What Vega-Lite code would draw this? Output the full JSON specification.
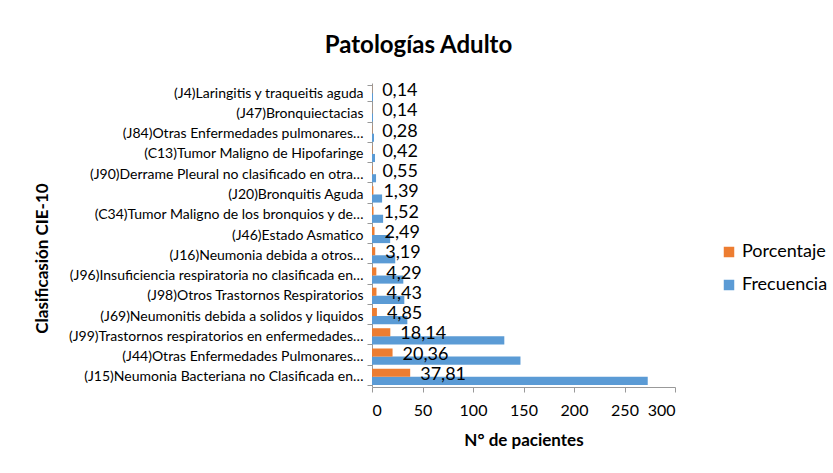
{
  "$schema": "https://vega.github.io/schema/vega-lite/v6.json",
  "width": 303,
  "height": 304,
  "autosize": "none",
  "padding": {"left": 372, "top": 83, "right": 158, "bottom": 86},
  "background": "white",
  "config": {
    "font": "Lato",
    "view": {"stroke": null},
    "locale": {"number": {"decimal": ",", "thousands": ".", "grouping": [3], "currency": ["", "€"]}}
  },
  "title": {"text": "Patologías Adulto", "fontSize": 24, "fontWeight": "bold", "anchor": "middle", "dx": -105, "offset": 18, "color": "black", "font": "Lato"},
  "data": {"values": [
    {"cat": "(J4)Laringitis y traqueitis aguda", "serie": "Frecuencia", "valor": 1, "pct": 0.14},
    {"cat": "(J4)Laringitis y traqueitis aguda", "serie": "Porcentaje", "valor": 0.14, "pct": 0.14},
    {"cat": "(J47)Bronquiectacias", "serie": "Frecuencia", "valor": 1, "pct": 0.14},
    {"cat": "(J47)Bronquiectacias", "serie": "Porcentaje", "valor": 0.14, "pct": 0.14},
    {"cat": "(J84)Otras Enfermedades pulmonares…", "serie": "Frecuencia", "valor": 2, "pct": 0.28},
    {"cat": "(J84)Otras Enfermedades pulmonares…", "serie": "Porcentaje", "valor": 0.28, "pct": 0.28},
    {"cat": "(C13)Tumor Maligno de Hipofaringe", "serie": "Frecuencia", "valor": 3, "pct": 0.42},
    {"cat": "(C13)Tumor Maligno de Hipofaringe", "serie": "Porcentaje", "valor": 0.42, "pct": 0.42},
    {"cat": "(J90)Derrame Pleural no clasificado en otra…", "serie": "Frecuencia", "valor": 4, "pct": 0.55},
    {"cat": "(J90)Derrame Pleural no clasificado en otra…", "serie": "Porcentaje", "valor": 0.55, "pct": 0.55},
    {"cat": "(J20)Bronquitis Aguda", "serie": "Frecuencia", "valor": 10, "pct": 1.39},
    {"cat": "(J20)Bronquitis Aguda", "serie": "Porcentaje", "valor": 1.39, "pct": 1.39},
    {"cat": "(C34)Tumor Maligno de los bronquios y de…", "serie": "Frecuencia", "valor": 11, "pct": 1.52},
    {"cat": "(C34)Tumor Maligno de los bronquios y de…", "serie": "Porcentaje", "valor": 1.52, "pct": 1.52},
    {"cat": "(J46)Estado Asmatico", "serie": "Frecuencia", "valor": 18, "pct": 2.49},
    {"cat": "(J46)Estado Asmatico", "serie": "Porcentaje", "valor": 2.49, "pct": 2.49},
    {"cat": "(J16)Neumonia debida a otros…", "serie": "Frecuencia", "valor": 23, "pct": 3.19},
    {"cat": "(J16)Neumonia debida a otros…", "serie": "Porcentaje", "valor": 3.19, "pct": 3.19},
    {"cat": "(J96)Insuficiencia respiratoria no clasificada en…", "serie": "Frecuencia", "valor": 31, "pct": 4.29},
    {"cat": "(J96)Insuficiencia respiratoria no clasificada en…", "serie": "Porcentaje", "valor": 4.29, "pct": 4.29},
    {"cat": "(J98)Otros Trastornos Respiratorios", "serie": "Frecuencia", "valor": 32, "pct": 4.43},
    {"cat": "(J98)Otros Trastornos Respiratorios", "serie": "Porcentaje", "valor": 4.43, "pct": 4.43},
    {"cat": "(J69)Neumonitis debida a solidos y liquidos", "serie": "Frecuencia", "valor": 35, "pct": 4.85},
    {"cat": "(J69)Neumonitis debida a solidos y liquidos", "serie": "Porcentaje", "valor": 4.85, "pct": 4.85},
    {"cat": "(J99)Trastornos respiratorios en enfermedades…", "serie": "Frecuencia", "valor": 131, "pct": 18.14},
    {"cat": "(J99)Trastornos respiratorios en enfermedades…", "serie": "Porcentaje", "valor": 18.14, "pct": 18.14},
    {"cat": "(J44)Otras Enfermedades Pulmonares…", "serie": "Frecuencia", "valor": 147, "pct": 20.36},
    {"cat": "(J44)Otras Enfermedades Pulmonares…", "serie": "Porcentaje", "valor": 20.36, "pct": 20.36},
    {"cat": "(J15)Neumonia Bacteriana no Clasificada en…", "serie": "Frecuencia", "valor": 273, "pct": 37.81},
    {"cat": "(J15)Neumonia Bacteriana no Clasificada en…", "serie": "Porcentaje", "valor": 37.81, "pct": 37.81}
  ]},
  "encoding": {
    "y": {
      "field": "cat", "type": "nominal",
      "sort": [
        "(J4)Laringitis y traqueitis aguda",
        "(J47)Bronquiectacias",
        "(J84)Otras Enfermedades pulmonares…",
        "(C13)Tumor Maligno de Hipofaringe",
        "(J90)Derrame Pleural no clasificado en otra…",
        "(J20)Bronquitis Aguda",
        "(C34)Tumor Maligno de los bronquios y de…",
        "(J46)Estado Asmatico",
        "(J16)Neumonia debida a otros…",
        "(J96)Insuficiencia respiratoria no clasificada en…",
        "(J98)Otros Trastornos Respiratorios",
        "(J69)Neumonitis debida a solidos y liquidos",
        "(J99)Trastornos respiratorios en enfermedades…",
        "(J44)Otras Enfermedades Pulmonares…",
        "(J15)Neumonia Bacteriana no Clasificada en…"
      ],
      "scale": {"paddingInner": 0.2, "paddingOuter": 0.1},
      "axis": {
        "title": "Clasificasión CIE-10", "titleFontSize": 17, "titleFontWeight": "bold", "titleColor": "black",
        "titleX": -330, "titleY": 175, "titleAngle": -90, "titleAlign": "center", "titleBaseline": "middle",
        "labelFontSize": 14, "labelLimit": 400, "labelColor": "black", "labelPadding": 4,
        "tickBand": "extent", "tickColor": "#999", "domainColor": "#999", "tickSize": 5
      }
    }
  },
  "layer": [
    {
      "mark": {"type": "bar"},
      "encoding": {
        "x": {
          "field": "valor", "type": "quantitative",
          "scale": {"domain": [0, 300], "nice": false},
          "axis": {
            "values": [0, 50, 100, 150, 200, 250, 300], "grid": false,
            "labelFontSize": 16, "labelColor": "black", "labelPadding": 10,
            "title": "N° de pacientes", "titleFontSize": 17, "titleFontWeight": "bold", "titleColor": "black", "titlePadding": 14,
            "tickColor": "#999", "domainColor": "#999", "tickSize": 5
          }
        },
        "yOffset": {"field": "serie", "type": "nominal", "sort": ["Porcentaje", "Frecuencia"]},
        "color": {
          "field": "serie", "type": "nominal",
          "scale": {"domain": ["Porcentaje", "Frecuencia"], "range": ["#ED7D31", "#5B9BD5"]},
          "legend": {
            "orient": "none", "legendX": 348, "legendY": 160, "title": null,
            "symbolType": "square", "symbolSize": 110, "labelFontSize": 18, "labelColor": "black",
            "rowPadding": 15, "symbolStrokeWidth": 0
          }
        }
      }
    },
    {
      "transform": [{"filter": "datum.serie === 'Porcentaje'"}],
      "mark": {"type": "text", "align": "left", "baseline": "middle", "dx": 10, "dy": -2, "fontSize": 18, "color": "black"},
      "encoding": {
        "x": {"field": "valor", "type": "quantitative"},
        "text": {"field": "pct", "type": "quantitative", "format": ".2f"}
      }
    }
  ]
}
